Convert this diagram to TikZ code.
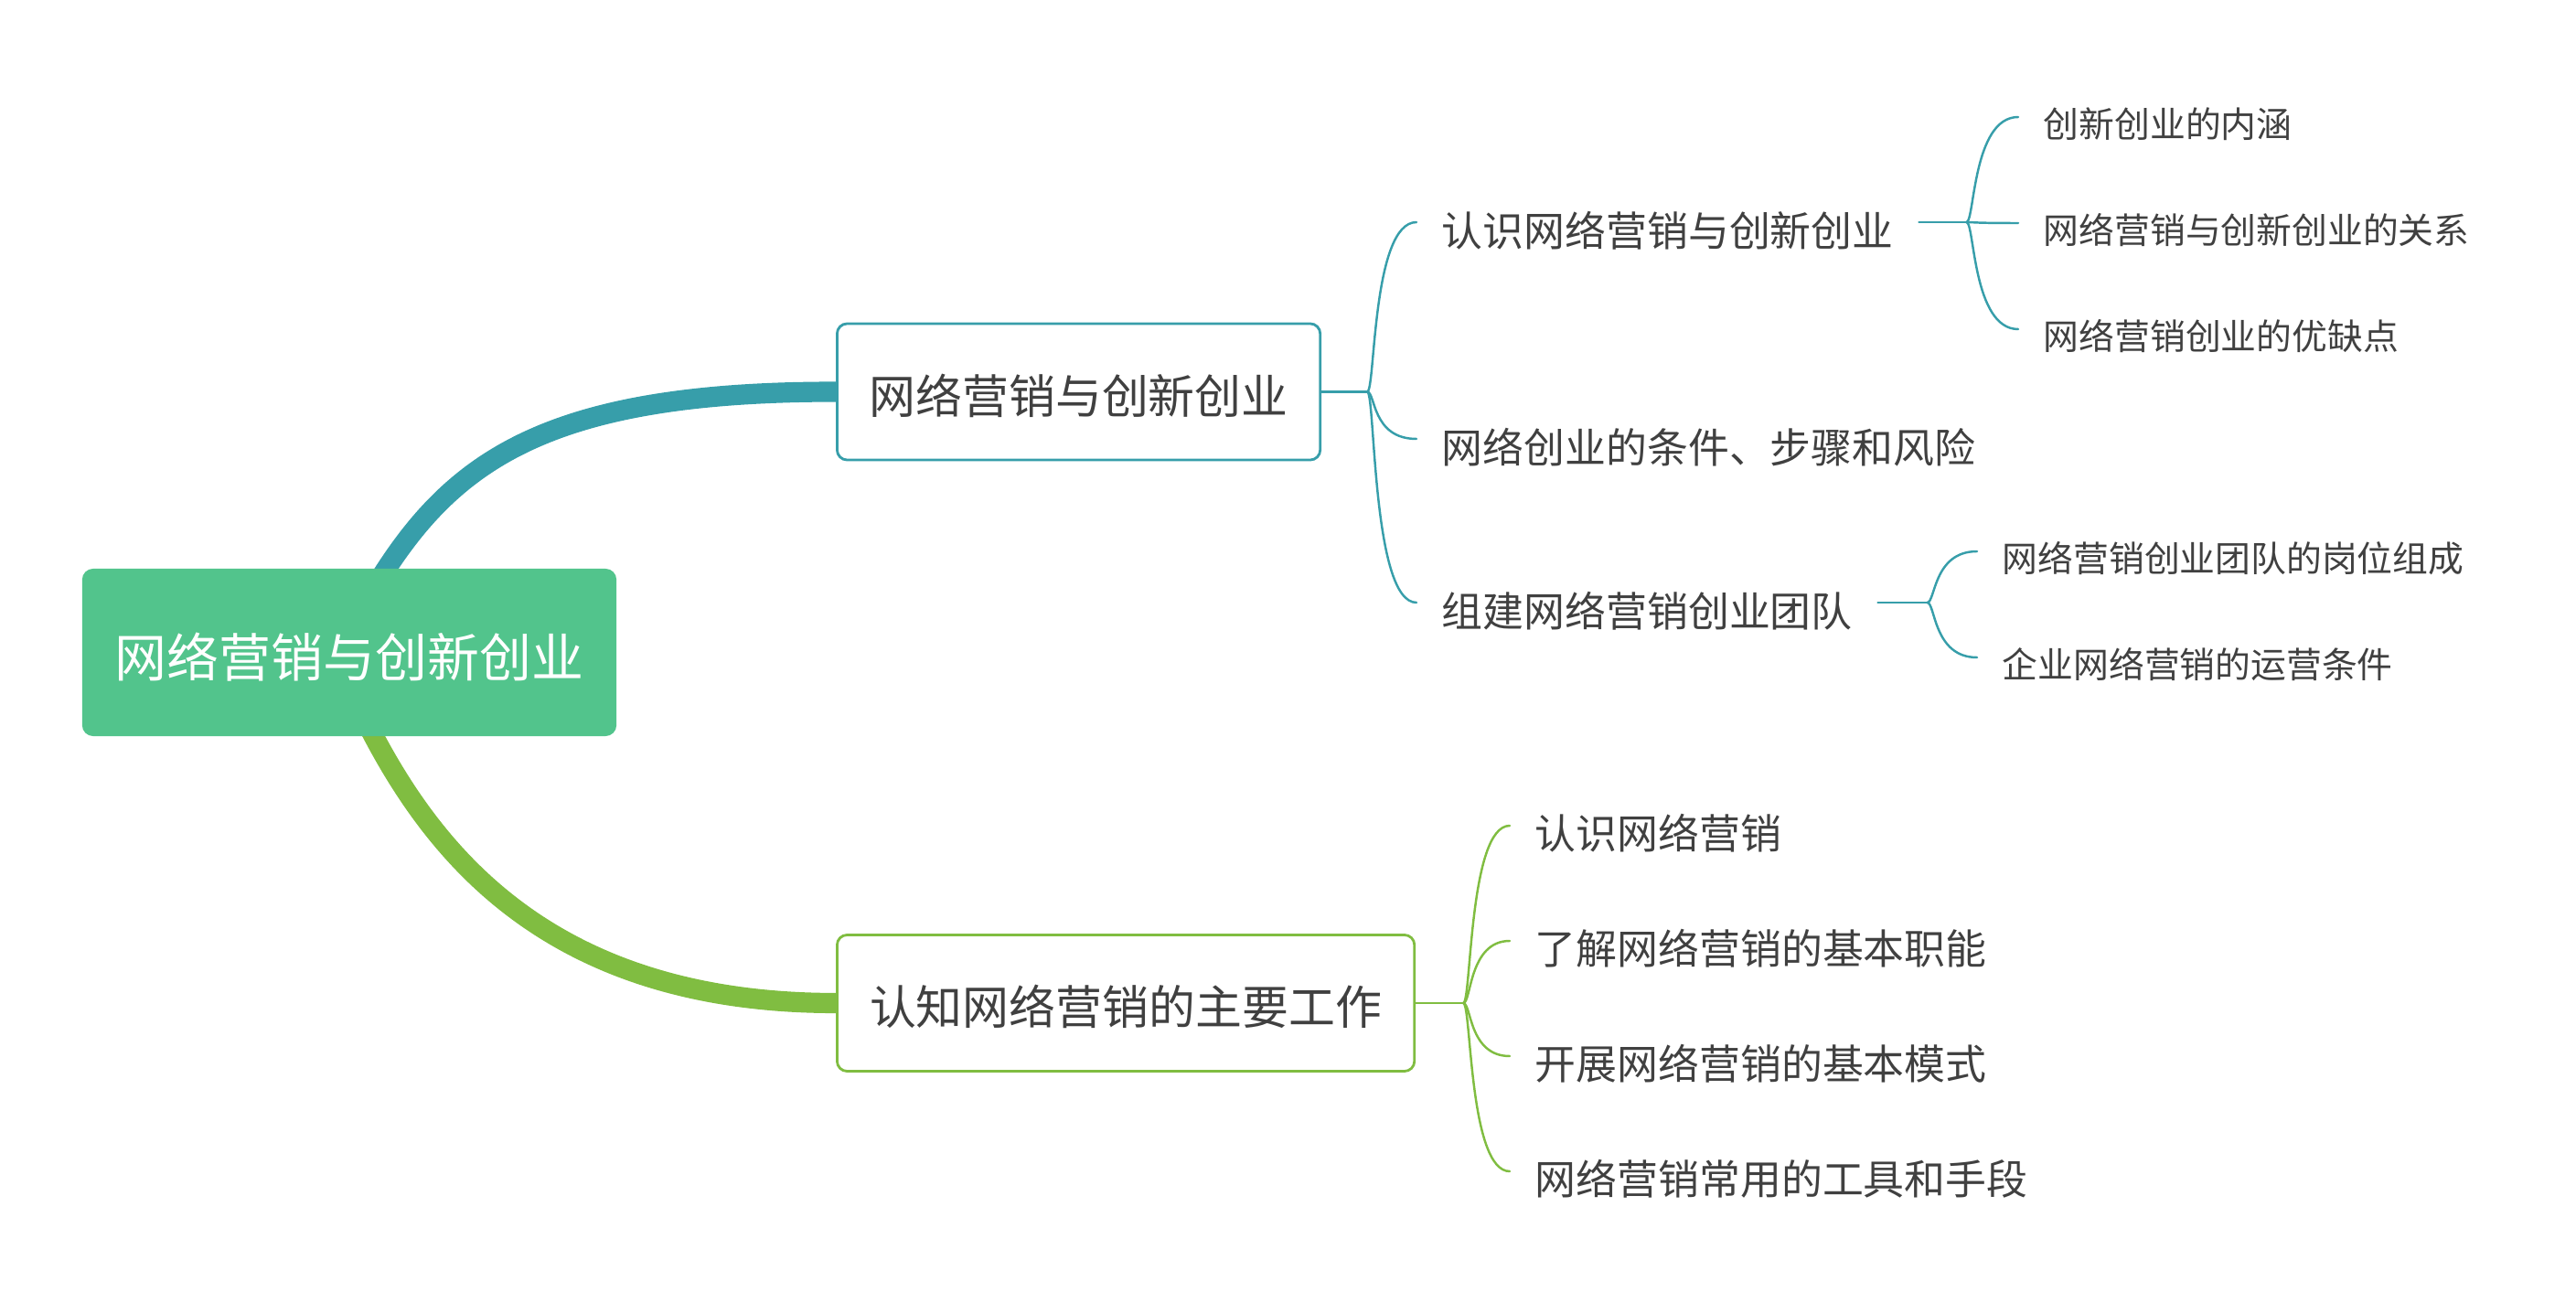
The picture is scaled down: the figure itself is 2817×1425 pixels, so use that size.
\documentclass[tikz,border=0pt]{standalone}
\usepackage{fontspec}
\setmainfont{Noto Sans CJK SC}
\usetikzlibrary{calc,backgrounds}
\definecolor{rootc}{HTML}{52C48C}
\definecolor{tealc}{HTML}{379EAA}
\definecolor{greenc}{HTML}{80BD41}
\definecolor{txtc}{HTML}{404040}
\begin{document}
\begin{tikzpicture}[x=0.01cm,y=-0.01cm,
  rootbox/.style={fill=rootc, rounded corners=0.12cm, text=white,
    font=\fontsize{16.19pt}{18pt}\selectfont, minimum width=5.84cm,
    minimum height=1.83cm, inner sep=0pt, text height=15.54pt, text depth=0.32pt},
  mainbox/.style={draw=#1, fill=white, line width=0.8pt, rounded corners=0.11cm,
    text=txtc, font=\fontsize{14.48pt}{17pt}\selectfont, minimum height=1.49cm,
    inner xsep=0.35cm, anchor=west, text height=13.9pt, text depth=0.29pt},
  subtopic/.style={text=txtc, font=\fontsize{12.77pt}{15pt}\selectfont,
    inner xsep=0.27cm, inner ysep=0pt, anchor=west},
  leaf/.style={text=txtc, font=\fontsize{11.04pt}{13pt}\selectfont,
    inner xsep=0.27cm, inner ysep=0pt, anchor=west},
  thicklink/.style={draw=#1, line width=6.3pt, line cap=butt, line join=round},
  thinlink/.style={draw=#1, line width=0.7pt, line cap=round, line join=round},
]
\useasboundingbox (0,0) rectangle (2817,1425);

% nodes
\node[rootbox] (root) at (382,713.5) {网络营销与创新创业};
\node[mainbox=tealc, minimum width=5.27cm] (b1) at (914,428.5) {网络营销与创新创业};
\node[mainbox=greenc, minimum width=6.31cm] (b2) at (914,1097) {认知网络营销的主要工作};

\node[subtopic] (c11) at (1549,252) {认识网络营销与创新创业};
\node[subtopic] (c12) at (1549,489) {网络创业的条件、步骤和风险};
\node[subtopic] (c13) at (1549,668) {组建网络营销创业团队};

\node[leaf] (d1) at (2207,136) {创新创业的内涵};
\node[leaf] (d2) at (2207,252) {网络营销与创新创业的关系};
\node[leaf] (d3) at (2207,368) {网络营销创业的优缺点};

\node[leaf] (e1) at (2162,611) {网络营销创业团队的岗位组成};
\node[leaf] (e2) at (2162,727) {企业网络营销的运营条件};

\node[subtopic] (g1) at (1651,911) {认识网络营销};
\node[subtopic] (g2) at (1651,1037) {了解网络营销的基本职能};
\node[subtopic] (g3) at (1651,1163) {开展网络营销的基本模式};
\node[subtopic] (g4) at (1651,1289) {网络营销常用的工具和手段};

\begin{pgfonlayer}{background}
  % main thick branches
  \draw[thicklink=tealc] ($(root.north)+(15,40)$) -- ($(root.north)+(41,0)$)
    .. controls +(82,-125) and +(-300,0) .. (b1.west);
  \draw[thicklink=greenc] ($(root.south)+(6,-40)$) -- ($(root.south)+(27,0)$)
    .. controls +(75,141) and +(-300,0) .. (b2.west);

  % branch 1 children
  \coordinate (j1) at ($(b1.east)+(50,0)$);
  \draw[thinlink=tealc] (b1.east) -- (j1);
  \foreach \n in {c11,c12,c13}
    \draw[thinlink=tealc] (j1) .. controls +(9,0) and +(-49,0) .. ($(\n.west)+(0,-9)$);

  % children of c11
  \coordinate (j2) at ($(c11.east)+(52,-9)$);
  \draw[thinlink=tealc] ($(c11.east)+(0,-9)$) -- (j2);
  \foreach \n in {d1,d2,d3}
    \draw[thinlink=tealc] (j2) .. controls +(9,0) and +(-50,0) .. ($(\n.west)+(0,-8)$);

  % children of c13
  \coordinate (j3) at ($(c13.east)+(54,-9)$);
  \draw[thinlink=tealc] ($(c13.east)+(0,-9)$) -- (j3);
  \foreach \n in {e1,e2}
    \draw[thinlink=tealc] (j3) .. controls +(9,0) and +(-48,0) .. ($(\n.west)+(0,-8)$);

  % branch 2 children
  \coordinate (j4) at ($(b2.east)+(52,0)$);
  \draw[thinlink=greenc] (b2.east) -- (j4);
  \foreach \n in {g1,g2,g3,g4}
    \draw[thinlink=greenc] (j4) .. controls +(9,0) and +(-45,0) .. ($(\n.west)+(0,-8)$);
\end{pgfonlayer}
\end{tikzpicture}
\end{document}
